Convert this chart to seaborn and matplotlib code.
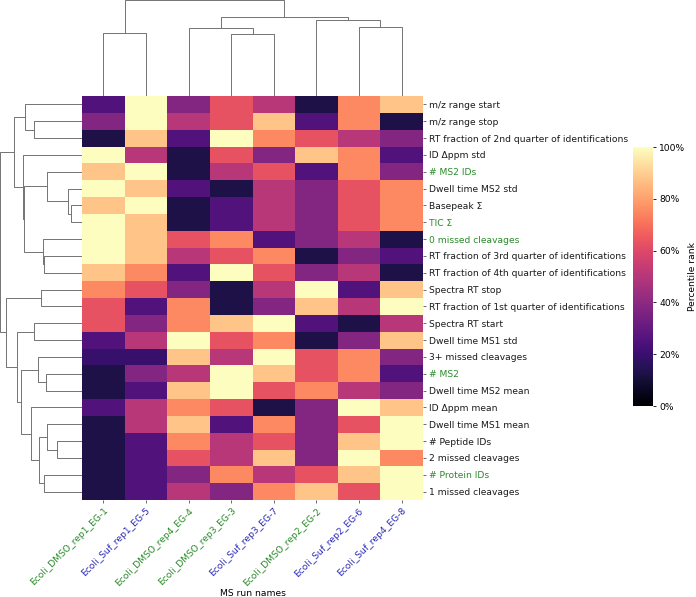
import numpy as np
import pandas as pd
import seaborn as sns
import matplotlib
matplotlib.use("Agg")
import matplotlib.pyplot as plt
from matplotlib.ticker import PercentFormatter

metrics = [
    "m/z range start", "m/z range stop",
    "RT fraction of 2nd quarter of identifications", "ID \u0394ppm std",
    "# MS2 IDs", "Dwell time MS2 std", "Basepeak \u03a3", "TIC \u03a3",
    "0 missed cleavages", "RT fraction of 3rd quarter of identifications",
    "RT fraction of 4th quarter of identifications", "Spectra RT stop",
    "RT fraction of 1st quarter of identifications", "Spectra RT start",
    "Dwell time MS1 std", "3+ missed cleavages", "# MS2",
    "Dwell time MS2 mean", "ID \u0394ppm mean", "Dwell time MS1 mean",
    "# Peptide IDs", "2 missed cleavages", "# Protein IDs",
    "1 missed cleavages",
]
green_metrics = ["# MS2 IDs", "TIC \u03a3", "0 missed cleavages", "# MS2", "# Protein IDs"]

runs = ["Ecoli_DMSO_rep1_EG-1", "Ecoli_Suf_rep1_EG-5", "Ecoli_DMSO_rep4_EG-4",
        "Ecoli_DMSO_rep3_EG-3", "Ecoli_Suf_rep3_EG-7", "Ecoli_DMSO_rep2_EG-2",
        "Ecoli_Suf_rep2_EG-6", "Ecoli_Suf_rep4_EG-8"]

# rank (1..8) of each run per metric, in the metric order above
dmso_rep1 = [2, 3, 1, 8, 7, 8, 7, 8, 8, 8, 7, 6, 5, 5, 2, 1.5, 1, 1, 2, 1, 1, 1, 1, 1]
suf_rep1  = [8, 8, 7, 4, 8, 7, 8, 7, 7, 7, 6, 5, 2, 3, 4, 1.5, 3, 2, 4, 4, 2, 2, 2, 2]
dmso_rep4 = [3, 4, 2, 1, 1, 2, 1, 1, 5, 4, 2, 3, 6, 6, 8, 7, 4, 7, 6, 7, 6, 5, 3, 4]
dmso_rep3 = [5, 5, 8, 5, 4, 1, 2, 2, 6, 5, 8, 1, 1, 7, 5, 4, 8, 8, 5, 2, 4, 4, 6, 3]
suf_rep3  = [4, 7, 6, 3, 5, 4, 4, 4, 2, 6, 5, 4, 3, 8, 6, 8, 7, 5, 1, 6, 5, 7, 4, 6]
dmso_rep2 = [1, 2, 5, 7, 2, 3, 3, 3, 3, 1, 3, 8, 7, 2, 1, 5, 5, 6, 3, 3, 3, 3, 5, 7]
suf_rep2  = [6, 6, 4, 6, 6, 5, 5, 5, 4, 3, 4, 2, 4, 1, 3, 6, 6, 4, 8, 5, 7, 8, 7, 5]
suf_rep4  = [7, 1, 3, 2, 3, 6, 6, 6, 1, 2, 1, 7, 8, 4, 7, 3, 2, 3, 7, 8, 8, 6, 8, 8]

n_runs = len(runs)
df = pd.DataFrame({
    runs[0]: dmso_rep1, runs[1]: suf_rep1, runs[2]: dmso_rep4, runs[3]: dmso_rep3,
    runs[4]: suf_rep3, runs[5]: dmso_rep2, runs[6]: suf_rep2, runs[7]: suf_rep4,
}, index=metrics) / n_runs
df.columns.name = "MS run names"

FS = 6.6
W, H = 696, 597
g = sns.clustermap(df, cmap="magma", vmin=0, vmax=1, figsize=(W / 100, H / 100),
                   xticklabels=True, yticklabels=True,
                   tree_kws={"colors": "0.45", "linewidths": 0.7},
                   cbar_kws={"format": PercentFormatter(1.0, decimals=0)})

def fx(px):
    return px / W

def fy(py):
    return 1 - py / H

hx0, hx1, hy0, hy1 = 82, 423, 96, 500
g.ax_heatmap.set_position([fx(hx0), fy(hy1), fx(hx1 - hx0), (hy1 - hy0) / H])
colh = 96 * 1.05
g.ax_col_dendrogram.set_position([fx(hx0), fy(hy0), fx(hx1 - hx0), colh / H])
roww = 82 * 1.05
g.ax_row_dendrogram.set_position([fx(hx0 - roww), fy(hy1), fx(roww), (hy1 - hy0) / H])
g.ax_cbar.set_position([fx(633), fy(406), fx(20), (406 - 147) / H])

ax = g.ax_heatmap
ax.set_ylabel("")
ax.set_xlabel("MS run names", fontsize=FS, va="center")
ax.xaxis.set_label_coords(0.5, -(593 - hy1) / (hy1 - hy0))
ax.tick_params(axis="both", labelsize=FS, length=2.5, width=0.6, color="#555555", pad=2)
for lab in ax.get_xticklabels():
    lab.set_rotation(45)
    lab.set_ha("right")
    lab.set_rotation_mode("anchor")
    lab.set_color("#2a8a2a" if "DMSO" in lab.get_text() else "#2b2bb5")
for lab in ax.get_yticklabels():
    lab.set_rotation(0)
    lab.set_color("#2a8a2a" if lab.get_text() in green_metrics else "#1a1a1a")

cb = g.ax_cbar
cb.tick_params(labelsize=FS, length=2.5, width=0.6, pad=2)
cb.set_ylabel("Percentile rank", fontsize=FS, labelpad=2)
cb.yaxis.set_label_position("right")

g.figure.savefig("out.png", dpi=100)
